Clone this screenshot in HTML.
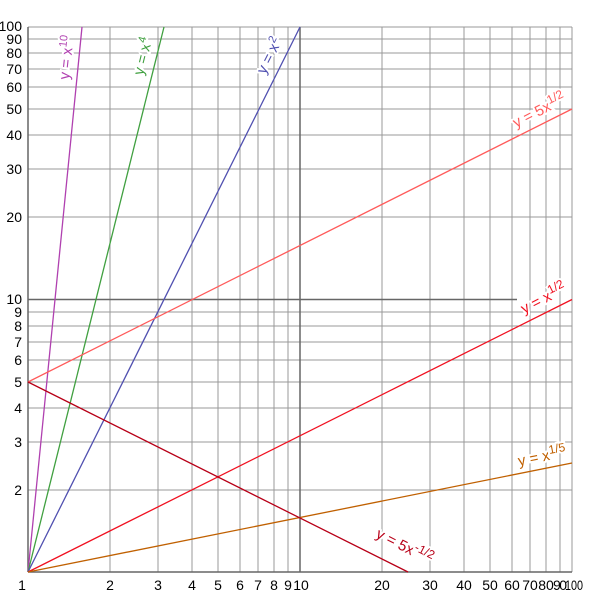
<!DOCTYPE html>
<html><head><style>body{margin:0;background:#fff}svg{display:block}
text{font-family:"Liberation Sans",sans-serif;}
</style></head><body>
<svg width="600" height="600" viewBox="0 0 600 600" xmlns="http://www.w3.org/2000/svg">
<g stroke="#999" stroke-width="1">
<line x1="110" y1="27" x2="110" y2="572"/><line x1="158" y1="27" x2="158" y2="572"/><line x1="192" y1="27" x2="192" y2="572"/><line x1="218" y1="27" x2="218" y2="572"/><line x1="240" y1="27" x2="240" y2="572"/><line x1="258" y1="27" x2="258" y2="572"/><line x1="274" y1="27" x2="274" y2="572"/><line x1="288" y1="27" x2="288" y2="572"/>
<line x1="382" y1="27" x2="382" y2="572"/><line x1="430" y1="27" x2="430" y2="572"/><line x1="464" y1="27" x2="464" y2="572"/><line x1="490" y1="27" x2="490" y2="572"/><line x1="512" y1="27" x2="512" y2="572"/><line x1="530" y1="27" x2="530" y2="572"/><line x1="546" y1="27" x2="546" y2="572"/><line x1="560" y1="27" x2="560" y2="572"/>
<line x1="28" y1="490" x2="572" y2="490"/><line x1="28" y1="442" x2="572" y2="442"/><line x1="28" y1="408" x2="572" y2="408"/><line x1="28" y1="382" x2="572" y2="382"/><line x1="28" y1="360" x2="572" y2="360"/><line x1="28" y1="342" x2="572" y2="342"/><line x1="28" y1="326" x2="572" y2="326"/><line x1="28" y1="312" x2="572" y2="312"/>
<line x1="28" y1="217" x2="572" y2="217"/><line x1="28" y1="169" x2="572" y2="169"/><line x1="28" y1="135" x2="572" y2="135"/><line x1="28" y1="109" x2="572" y2="109"/><line x1="28" y1="87" x2="572" y2="87"/><line x1="28" y1="69" x2="572" y2="69"/><line x1="28" y1="53" x2="572" y2="53"/><line x1="28" y1="39" x2="572" y2="39"/>
<line x1="28" y1="27" x2="572" y2="27"/><line x1="572" y1="27" x2="572" y2="572"/>
</g>
<g stroke="#666" stroke-width="1.5">
<line x1="28" y1="27" x2="28" y2="572"/><line x1="28" y1="572" x2="572" y2="572"/>
<line x1="300" y1="27" x2="300" y2="572"/><line x1="28" y1="299.5" x2="517" y2="299.5"/>
</g>
<g stroke-width="1.3" fill="none">
<line x1="28" y1="572" x2="82" y2="27" stroke="#b040b0"/>
<line x1="28" y1="572" x2="164" y2="27" stroke="#40a040"/>
<line x1="28" y1="572" x2="300" y2="27" stroke="#5050b0"/>
<line x1="28" y1="382" x2="572" y2="109" stroke="#ff5a5a"/>
<line x1="28" y1="572" x2="572" y2="299.5" stroke="#f01020"/>
<line x1="28" y1="572" x2="572" y2="463" stroke="#c06000"/>
<line x1="28" y1="382" x2="408" y2="572" stroke="#b80018"/>
</g>
<g font-size="15">
<text x="69" y="80" fill="#b040b0" transform="rotate(-84 69 80)" stroke="#fff" stroke-width="4" paint-order="stroke">y = x<tspan dy="-6" font-size="11">10</tspan></text>
<text x="143" y="76" fill="#40a040" transform="rotate(-76 143 76)" stroke="#fff" stroke-width="4" paint-order="stroke">y = x<tspan dy="-6" font-size="11">4</tspan></text>
<text x="265" y="75" fill="#5050b0" transform="rotate(-63 265 75)" stroke="#fff" stroke-width="4" paint-order="stroke">y = x<tspan dy="-6" font-size="11">2</tspan></text>
<text x="516" y="128" fill="#ff5a5a" transform="rotate(-27 516 128)" stroke="#fff" stroke-width="4" paint-order="stroke">y = 5x<tspan dy="-6" font-size="12">1/2</tspan></text>
<text x="524" y="314" fill="#f01020" transform="rotate(-27 524 314)" stroke="#fff" stroke-width="4" paint-order="stroke">y = x<tspan dy="-6" font-size="12">1/2</tspan></text>
<text x="519" y="466" fill="#c06000" transform="rotate(-11 519 466)" stroke="#fff" stroke-width="4" paint-order="stroke">y = x<tspan dy="-6" font-size="12">1/5</tspan></text>
<text x="375" y="537" fill="#b80018" transform="rotate(27 375 537)" stroke="#fff" stroke-width="4" paint-order="stroke">y = 5x<tspan dy="-6" font-size="12">-1/2</tspan></text>
</g>
<g font-size="14" fill="#000" text-anchor="middle">
<text x="22" y="590">1</text><text x="110" y="590">2</text><text x="158" y="590">3</text><text x="192" y="590">4</text><text x="218" y="590">5</text><text x="240" y="590">6</text><text x="258" y="590">7</text><text x="274" y="590">8</text><text x="288" y="590">9</text><text x="301" y="590">10</text>
<text x="382" y="590">20</text><text x="430" y="590">30</text><text x="464" y="590">40</text><text x="490" y="590">50</text><text x="512" y="590">60</text><text x="530" y="590">70</text><text x="546" y="590">80</text><text x="560" y="590" textLength="14">90</text><text x="574" y="590" textLength="18" lengthAdjust="spacingAndGlyphs">100</text>
</g>
<g font-size="14" fill="#000" text-anchor="end">
<text x="22" y="495">2</text><text x="22" y="447">3</text><text x="22" y="413">4</text><text x="22" y="387">5</text><text x="22" y="365">6</text><text x="22" y="347">7</text><text x="22" y="331">8</text><text x="22" y="317">9</text><text x="22" y="304">10</text>
<text x="22" y="222">20</text><text x="22" y="174">30</text><text x="22" y="140">40</text><text x="22" y="114">50</text><text x="22" y="92">60</text><text x="22" y="74">70</text><text x="22" y="58">80</text><text x="22" y="44">90</text><text x="22" y="31">100</text>
</g>
</svg>
</body></html>
